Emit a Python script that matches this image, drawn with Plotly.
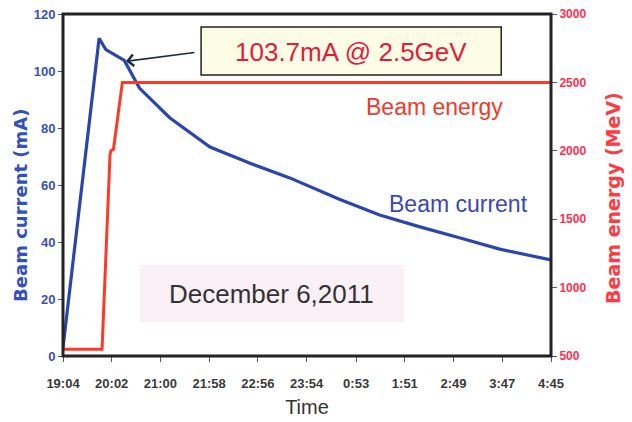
import plotly.graph_objects as go

# ---- data ----
time_labels = ["19:04", "20:02", "21:00", "21:58", "22:56", "23:54",
               "0:53", "1:51", "2:49", "3:47", "4:45"]

# minutes after 19:04
current_t = [0, 43, 51, 69, 73, 91, 127, 175, 222, 270, 282, 329, 377, 425, 473, 520, 581]
current_mA = [3, 111.5, 107.5, 104.5, 103.7, 94, 83.6, 73.3, 67.7, 62.5, 61, 55, 49.5, 45.3, 41.4, 37.5, 33.7]

energy_t = [0, 46.5, 56, 57, 60, 70.7, 581]
energy_MeV = [550, 550, 1975, 2000, 2010, 2500, 2500]


def to_minutes(label, start="19:04"):
    h, m = map(int, label.split(":"))
    sh, sm = map(int, start.split(":"))
    d = (h * 60 + m) - (sh * 60 + sm)
    if d < 0:
        d += 24 * 60
    return d


tick_vals = [to_minutes(l) for l in time_labels]

BLUE = "#2a45ad"
RED = "#ff3a24"
font = "Liberation Sans, Arial, sans-serif"
title_font = "DejaVu Sans, Liberation Sans, sans-serif"

fig = go.Figure()
fig.add_trace(go.Scatter(x=energy_t, y=energy_MeV, mode="lines", yaxis="y2",
                         line=dict(color=RED, width=3), hoverinfo="skip"))
fig.add_trace(go.Scatter(x=current_t, y=current_mA, mode="lines",
                         line=dict(color=BLUE, width=3.2), hoverinfo="skip"))

fig.update_layout(
    width=632, height=422,
    margin=dict(l=63, r=81, t=14, b=66, autoexpand=False),
    paper_bgcolor="white", plot_bgcolor="white",
    showlegend=False,
    font=dict(family=font),
    xaxis=dict(range=[0, tick_vals[-1]], tickvals=tick_vals, ticktext=time_labels,
               showgrid=False, zeroline=False, ticks="outside", ticklen=5, automargin=False,
               ticklabelstandoff=10,
               tickcolor="#555", tickfont=dict(size=13, color="#3a3a3a", weight="bold"),
               title=dict(text="Time", font=dict(size=20, color="#333"), standoff=10)),
    yaxis=dict(range=[0, 120], dtick=20, showgrid=False, zeroline=False, automargin=False,
               ticks="outside", ticklen=4, tickcolor="#555",
               tickfont=dict(size=13, color="#3a50b8", weight="bold")),
    yaxis2=dict(range=[500, 3000], dtick=500, overlaying="y", side="right", automargin=False,
                showgrid=False, zeroline=False, ticks="outside", ticklen=5,
                tickcolor="#4a5a90",
                tickfont=dict(size=12, color="#ff3050", weight="bold")),
)

# axis titles (as rotated annotations, positioned like the original)
fig.add_annotation(xref="paper", yref="paper", x=-0.086, y=0.439, textangle=-90,
                   text="<b>Beam current (mA)</b>", xanchor="center", yanchor="middle",
                   showarrow=False, font=dict(size=18, color="#3350c0", family=title_font))
fig.add_annotation(xref="paper", yref="paper", x=1.127, y=0.462, textangle=-90,
                   text="<b>Beam energy (MeV)</b>", xanchor="center", yanchor="middle",
                   showarrow=False, font=dict(size=19, color="#ff3a40", family=title_font))

# plot frame
fig.add_shape(type="rect", xref="paper", yref="paper", x0=0, x1=1, y0=0, y1=1,
              line=dict(color="#222", width=3), layer="above")

# date box
fig.add_shape(type="rect", xref="paper", yref="paper", x0=0.158, x1=0.699, y0=0.099, y1=0.266,
              line=dict(width=0), fillcolor="#fbf0f5", layer="below")
fig.add_annotation(xref="paper", yref="paper", x=0.428, y=0.181, text="December 6,2011",
                   xanchor="center", yanchor="middle",
                   showarrow=False, font=dict(size=26, color="#333"))

# value box
fig.add_shape(type="rect", xref="paper", yref="paper", x0=0.283, x1=0.898, y0=0.822, y1=0.962,
              line=dict(color="#222", width=1.5), fillcolor="#fdfde6", layer="above")
fig.add_annotation(xref="paper", yref="paper", x=0.59, y=0.889, text="103.7mA @ 2.5GeV",
                   xanchor="center", yanchor="middle",
                   showarrow=False, font=dict(size=26, color="#e8183a"))

# arrow to 103.7 mA point
fig.add_annotation(x=current_t[4] + 2, y=current_mA[4] - 0.3, xref="x", yref="y",
                   ax=70, ay=-9, axref="pixel", ayref="pixel", text="",
                   showarrow=True, arrowhead=4, arrowsize=1.4, arrowwidth=1.6,
                   arrowcolor="#1f2a45")

# series labels
fig.add_annotation(xref="paper", yref="paper", x=0.762, y=0.728, text="Beam energy",
                   xanchor="center", yanchor="middle",
                   showarrow=False, font=dict(size=23, color="#f03a2a"))
fig.add_annotation(xref="paper", yref="paper", x=0.811, y=0.444, text="Beam current",
                   xanchor="center", yanchor="middle",
                   showarrow=False, font=dict(size=23, color="#3a48b0"))

fig.write_html("out.html", config={"displayModeBar": False},
               post_script="document.body.style.margin='0';")
